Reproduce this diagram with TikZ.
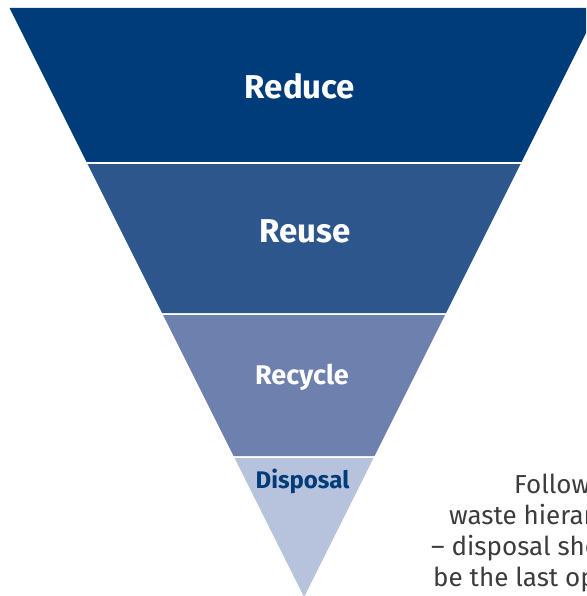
\documentclass[tikz,border=0pt]{standalone}
\usepackage{fontspec}
\setmainfont{Fira Sans}
\usepackage{xcolor}
\usepackage{tikz}

\definecolor{reducecol}{HTML}{003C7A}
\definecolor{reusecol}{HTML}{2D578C}
\definecolor{recyclecol}{HTML}{6E80AD}
\definecolor{disposalcol}{HTML}{B7C2DD}
\definecolor{notecol}{HTML}{3C3C3B}

\tikzset{
  levellabel/.style={anchor=base, inner sep=0pt, font=\bfseries\fontsize{33}{33}\selectfont, text=white},
  noteline/.style={anchor=base west, inner sep=0pt, font=\fontsize{26}{26}\selectfont, text=notecol}
}

\begin{document}
\begin{tikzpicture}[x=1pt,y=-1pt]
\useasboundingbox (0,0) rectangle (586,596);
\clip (0,0) rectangle (586,596);
% the four levels of the hierarchy
\fill [reducecol] (9.5,8) -- (598.5,8) -- (521.5,162) -- (86.5,162) -- cycle;
\fill [reusecol] (87.5,164) -- (520.5,164) -- (446,313) -- (162,313) -- cycle;
\fill [recyclecol] (163,315) -- (445,315) -- (374.5,456) -- (233.5,456) -- cycle;
\fill [disposalcol] (234.5,458) -- (373.5,458) -- (304,597) -- cycle;
% labels
\node [levellabel] (reduce) at (300,99) {Reduce};
\node [levellabel] (reuse) at (305,242) {Reuse};
\node [levellabel, font=\bfseries\fontsize{27}{27}\selectfont] (recycle) at (302,384) {Recycle};
\node [levellabel, font=\bfseries\fontsize{24}{24}\selectfont, text=reducecol] (disposal) at (302.5,488) {Disposal};
% side note
\node [noteline] (note1) at (514,493) {Following the};
\node [noteline] (note2) at (449,524) {waste hierarchy};
\node [noteline] (note3) at (431,555) {– disposal should};
\node [noteline] (note4) at (433,586) {be the last option};
\end{tikzpicture}
\end{document}
